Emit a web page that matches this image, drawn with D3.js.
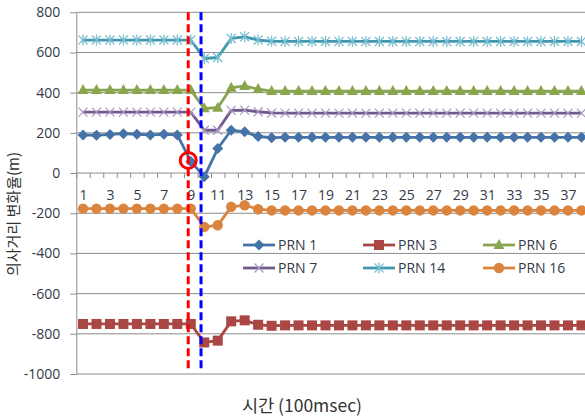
<!DOCTYPE html>
<html>
<head>
<meta charset="utf-8">
<script src="https://cdn.jsdelivr.net/npm/d3@7"></script>
<style>
  html, body { margin: 0; padding: 0; background: #fff; }
  svg { display: block; }
  text { font-family: "Noto Sans CJK KR", "Noto Sans", sans-serif; }
</style>
</head>
<body>
<svg id="chart" width="585" height="419"></svg>
<script>
// Time index (units of 100 msec)
const categories = d3.range(1, 39);

// Pseudorange rate per satellite (m)
const prn1  = [190, 188, 192, 196, 193, 190, 193, 190, 58, -19, 122, 213, 205, 182, 176, 178, 178, 178, 178, 178, 178, 178, 178, 178, 178, 178, 178, 178, 178, 178, 178, 178, 178, 178, 178, 178, 178, 178];
const prn3  = [-751, -751, -751, -751, -751, -751, -751, -751, -751, -843, -834, -738, -733, -755, -760, -758, -758, -758, -758, -758, -758, -758, -758, -758, -758, -758, -758, -758, -758, -758, -758, -758, -758, -758, -758, -758, -758, -758];
const prn6  = [413, 413, 413, 413, 413, 413, 413, 413, 413, 322, 325, 425, 433, 418, 408, 408, 408, 408, 408, 408, 408, 408, 408, 408, 408, 408, 408, 408, 408, 408, 408, 408, 408, 408, 408, 408, 408, 408];
const prn7  = [303, 303, 303, 303, 303, 303, 303, 303, 303, 213, 213, 312, 313, 305, 299, 298, 298, 298, 298, 298, 298, 298, 298, 298, 298, 298, 298, 298, 298, 298, 298, 298, 298, 298, 298, 298, 298, 298];
const prn14 = [662, 662, 662, 662, 662, 662, 662, 662, 662, 570, 575, 670, 678, 662, 656, 655, 655, 655, 655, 655, 655, 655, 655, 655, 655, 655, 655, 655, 655, 655, 655, 655, 655, 655, 655, 655, 655, 655];
const prn16 = [-177, -177, -177, -177, -177, -177, -177, -177, -177, -268, -260, -168, -160, -180, -186, -186, -186, -186, -186, -186, -186, -186, -186, -186, -186, -186, -186, -186, -186, -186, -186, -186, -186, -186, -186, -186, -186, -186];

const seriesNames = ["PRN 1", "PRN 3", "PRN 6", "PRN 7", "PRN 14", "PRN 16"];
const yTicks = [-1000, -800, -600, -400, -200, 0, 200, 400, 600, 800];
const xLabels = categories.filter(c => c % 2 === 1);

// Event instants (fractional time index) and the flagged sample
const eventTimes = [8.81, 9.76];
const flaggedIndex = 9;

const series = [
  { name: seriesNames[0], values: prn1,  color: "#4572A7", marker: "diamond" },
  { name: seriesNames[1], values: prn3,  color: "#AA4643", marker: "square" },
  { name: seriesNames[2], values: prn6,  color: "#89A54E", marker: "triangle" },
  { name: seriesNames[3], values: prn7,  color: "#71588F", marker: "x" },
  { name: seriesNames[4], values: prn14, color: "#4198AF", marker: "star" },
  { name: seriesNames[5], values: prn16, color: "#DB843D", marker: "circle" }
];

const svg = d3.select("#chart");

const plot = { left: 76.3, top: 12.3, bottom: 374, step: 13.47 };
const x = d3.scaleLinear()
  .domain([0.5, categories.length + 0.5])
  .range([plot.left, plot.left + categories.length * plot.step]);
const y = d3.scaleLinear().domain([-1000, 800]).range([plot.bottom, plot.top]);

const labelFont = "'Open Sans', 'Noto Sans', sans-serif";

// Horizontal gridlines
svg.append("g")
  .selectAll("line")
  .data(yTicks)
  .join("line")
  .attr("x1", plot.left).attr("x2", x.range()[1])
  .attr("y1", d => y(d)).attr("y2", d => y(d))
  .attr("stroke", "#8c8c8c").attr("stroke-width", 1);

// Y axis
const yAxis = svg.append("g")
  .attr("transform", `translate(${plot.left},0)`)
  .call(d3.axisLeft(y).tickValues(yTicks).tickFormat(d => String(d))
    .tickSizeInner(6).tickSizeOuter(0).tickPadding(10));
yAxis.select(".domain").attr("stroke", "#8c8c8c");
yAxis.selectAll(".tick line").attr("stroke", "#8c8c8c");
yAxis.selectAll(".tick text")
  .attr("fill", "#333a48").style("font-size", "14px")
  .style("font-family", labelFont);

// X axis along the zero line: tick marks at category boundaries
const boundaries = d3.range(0, categories.length + 1).map(i => i + 0.5);
const xTickAxis = svg.append("g")
  .attr("transform", `translate(0,${y(0)})`)
  .call(d3.axisBottom(x).tickValues(boundaries).tickFormat("").tickSizeInner(5).tickSizeOuter(0));
xTickAxis.select(".domain").remove();
xTickAxis.selectAll(".tick line").attr("stroke", "#8c8c8c");

// X labels on every other category
const xLabelAxis = svg.append("g")
  .attr("transform", `translate(0,${y(0)})`)
  .call(d3.axisBottom(x).tickValues(xLabels).tickFormat(d => String(d)).tickSize(0).tickPadding(17));
xLabelAxis.select(".domain").remove();
xLabelAxis.selectAll(".tick text")
  .attr("fill", "#333a48").style("font-size", "14px")
  .style("font-family", labelFont);

// Marker shapes
function drawMarker(g, type, color, cx, cy) {
  if (type === "diamond") {
    g.append("path").attr("d", `M${cx},${cy - 5.5}L${cx + 5.5},${cy}L${cx},${cy + 5.5}L${cx - 5.5},${cy}Z`).attr("fill", color);
  } else if (type === "square") {
    g.append("rect").attr("x", cx - 5).attr("y", cy - 5).attr("width", 10).attr("height", 10).attr("fill", color);
  } else if (type === "triangle") {
    g.append("path").attr("d", `M${cx},${cy - 6}L${cx + 5.5},${cy + 4}L${cx - 5.5},${cy + 4}Z`).attr("fill", color);
  } else if (type === "x") {
    g.append("path").attr("d", `M${cx - 4.5},${cy - 4.5}L${cx + 4.5},${cy + 4.5}M${cx - 4.5},${cy + 4.5}L${cx + 4.5},${cy - 4.5}`)
      .attr("stroke", "#a898c2").attr("stroke-width", 1.2).attr("fill", "none");
  } else if (type === "star") {
    g.append("path").attr("d",
      `M${cx - 4.5},${cy - 4.5}L${cx + 4.5},${cy + 4.5}M${cx - 4.5},${cy + 4.5}L${cx + 4.5},${cy - 4.5}M${cx},${cy - 5.5}L${cx},${cy + 5.5}`)
      .attr("stroke", "#7cc0d4").attr("stroke-width", 1.3).attr("fill", "none");
  } else if (type === "circle") {
    g.append("circle").attr("cx", cx).attr("cy", cy).attr("r", 5.2).attr("fill", color);
  }
}

// Series lines and markers
const line = d3.line().x((d, i) => x(categories[i])).y(d => y(d));
series.forEach(s => {
  const g = svg.append("g");
  g.append("path").datum(s.values).attr("d", line)
    .attr("fill", "none").attr("stroke", s.color).attr("stroke-width", 2.8)
    .attr("stroke-linejoin", "round");
  s.values.forEach((v, i) => drawMarker(g, s.marker, s.color, x(categories[i]), y(v)));
});

// Event lines
const eventColors = ["#ff0000", "#0000ff"];
svg.append("g").selectAll("line")
  .data(eventTimes)
  .join("line")
  .attr("x1", d => x(d)).attr("x2", d => x(d))
  .attr("y1", plot.top).attr("y2", y(-990))
  .attr("stroke", (d, i) => eventColors[i]).attr("stroke-width", 3)
  .attr("stroke-dasharray", "8,4");

// Circle highlighting the flagged sample
svg.append("circle")
  .attr("cx", x(eventTimes[0]))
  .attr("cy", y(prn1[flaggedIndex - 1]) - 1)
  .attr("r", 8)
  .attr("fill", "none").attr("stroke", "#ff0000").attr("stroke-width", 3);

// Legend
const legendCols = [243, 363, 483];
const legendRows = [245, 268];
series.forEach((s, i) => {
  const lx = legendCols[i % 3], ly = legendRows[Math.floor(i / 3)];
  const g = svg.append("g");
  g.append("line").attr("x1", lx).attr("x2", lx + 32).attr("y1", ly).attr("y2", ly)
    .attr("stroke", s.color).attr("stroke-width", 2.8);
  drawMarker(g, s.marker, s.color, lx + 16, ly);
  g.append("text").attr("x", lx + 35).attr("y", ly).attr("dy", "0.35em")
    .attr("fill", "#333a48").style("font-size", "14px")
    .style("font-family", labelFont)
    .text(s.name);
});

// Axis titles
svg.append("text")
  .attr("transform", `translate(19,214) rotate(-90)`)
  .attr("text-anchor", "middle")
  .attr("fill", "#333")
  .style("font-size", "15px")
  .text("의사거리 변화율(m)");

svg.append("text")
  .attr("x", 302).attr("y", 406).attr("dy", "0.35em")
  .attr("text-anchor", "middle")
  .attr("fill", "#333")
  .style("font-size", "17.5px")
  .text("시간 (100msec)");
</script>
</body>
</html>
